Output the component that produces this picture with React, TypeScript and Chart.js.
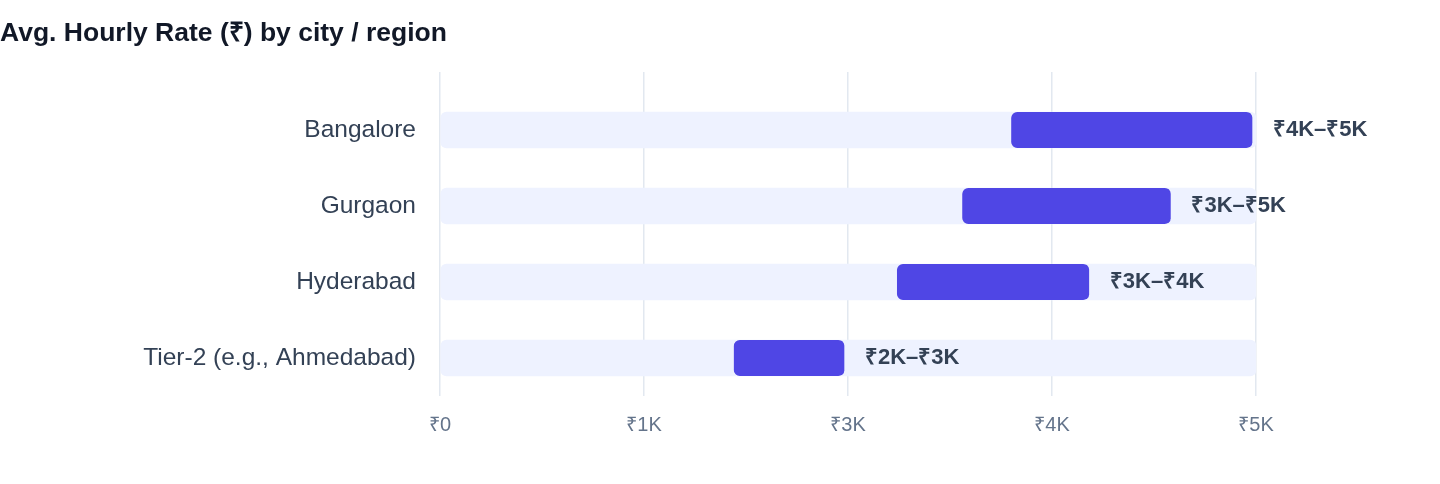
import React, { useRef, useEffect } from "react";
import { Chart, Plugin, registerables } from "chart.js";

Chart.register(...registerables);

const cities = ["Bangalore", "Gurgaon", "Hyderabad", "Tier-2 (e.g., Ahmedabad)"];
const rateLow = [3500, 3200, 2800, 1800];
const rateHigh = [5000, 4500, 4000, 2500];
const axisMax = 5000;
const tickStep = 1250;

const FONT = "'Liberation Sans', Arial, Helvetica, sans-serif";
const GRID = "#e2e8f0";

const fmtK = (v: number) => (v === 0 ? "₹0" : `₹${(v / 1000).toFixed(0)}K`);

// text to the right of each range bar
const rangeLabels: Plugin<"bar"> = {
  id: "rangeLabels",
  afterDatasetsDraw(chart) {
    const meta = chart.getDatasetMeta(0);
    const ctx = chart.ctx;
    ctx.save();
    ctx.font = `bold 22px ${FONT}`;
    ctx.fillStyle = "#334155";
    ctx.textBaseline = "middle";
    ctx.textAlign = "left";
    meta.data.forEach((bar, i) => {
      const { x, y } = bar.getProps(["x", "y"], true);
      ctx.fillText(`${fmtK(rateLow[i])}–${fmtK(rateHigh[i])}`, x + 17, y);
    });
    ctx.restore();
  },
};

const RateChart: React.FC = () => {
  const canvasRef = useRef<HTMLCanvasElement | null>(null);
  const chartRef = useRef<Chart<"bar"> | null>(null);

  useEffect(() => {
    document.body.style.margin = "0";
    if (!canvasRef.current) return;
    const ctx = canvasRef.current.getContext("2d");
    if (!ctx) return;

    chartRef.current = new Chart(ctx, {
      type: "bar",
      data: {
        labels: cities,
        datasets: [
          {
            label: "Range",
            data: cities.map((_, i) => [rateLow[i], rateHigh[i]] as [number, number]),
            backgroundColor: "#4f46e5",
            borderColor: "rgba(0,0,0,0)",
            borderWidth: { top: 0, right: 4, bottom: 0, left: 0 },
            borderSkipped: false,
            borderRadius: { topLeft: 6, bottomLeft: 6, topRight: 10, bottomRight: 10 },
            barThickness: 36,
            grouped: false,
          },
          {
            label: "Track",
            data: cities.map(() => [0, axisMax] as [number, number]),
            backgroundColor: "#eef2ff",
            borderSkipped: false,
            borderRadius: 6,
            barThickness: 36,
            grouped: false,
          },
        ],
      },
      options: {
        indexAxis: "y",
        animation: false,
        responsive: true,
        maintainAspectRatio: false,
        layout: { padding: { left: 0, right: 184, top: 0, bottom: 26 } },
        plugins: {
          legend: { display: false },
          tooltip: { enabled: false },
          title: {
            display: true,
            text: "Avg. Hourly Rate (₹) by city / region",
            align: "start",
            color: "#111827",
            font: { family: FONT, size: 26.5, weight: "bold" },
            padding: { top: 17.5, bottom: 22.7 },
          },
        },
        scales: {
          x: {
            type: "linear",
            position: "bottom",
            min: 0,
            max: axisMax,
            ticks: {
              stepSize: tickStep,
              callback: (v) => fmtK(Number(v)),
              color: "#64748b",
              font: { family: FONT, size: 20 },
              padding: 17,
            },
            grid: { color: GRID, lineWidth: 1.5, drawTicks: false },
            border: { display: false },
          },
          x2: {
            type: "linear",
            position: "top",
            min: 0,
            max: axisMax,
            ticks: { display: false, stepSize: tickStep },
            grid: { color: GRID, lineWidth: 1.5, drawOnChartArea: false, drawTicks: true, tickLength: 20 },
            border: { display: false },
          },
          y: {
            ticks: {
              color: "#334155",
              font: { family: FONT, size: 24.5 },
              padding: 24,
            },
            grid: { display: false, drawTicks: false },
            border: { display: false },
            afterFit: (scale) => {
              scale.width = 440;
            },
          },
        },
      },
      plugins: [rangeLabels],
    });

    return () => {
      chartRef.current?.destroy();
    };
  }, []);

  return (
    <div style={{ position: "relative", width: 1440, height: 480 }}>
      <canvas ref={canvasRef}></canvas>
    </div>
  );
};

export default function App() {
  return <RateChart />;
}
